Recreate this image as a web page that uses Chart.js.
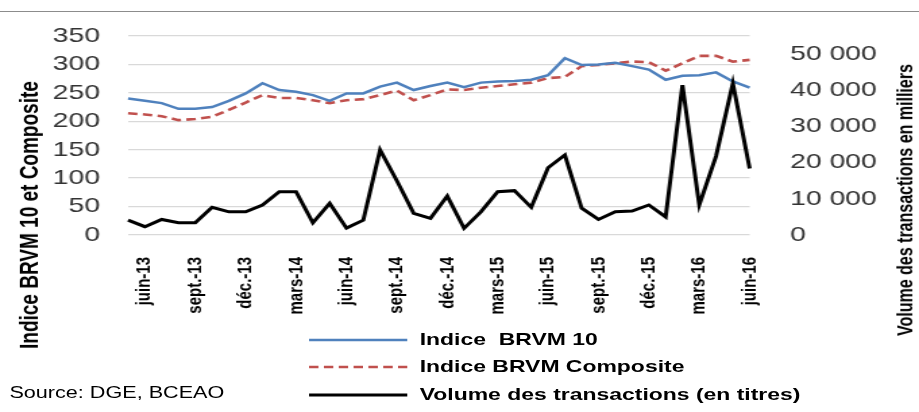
<!DOCTYPE html>
<html>
<head>
<meta charset="utf-8">
<script src="https://cdn.jsdelivr.net/npm/chart.js@4.4.1/dist/chart.umd.min.js"></script>
<style>
  html, body { margin: 0; padding: 0; background: #fff; overflow: hidden; }
  /* the original picture is stretched sideways, so draw narrow and stretch */
  #wrap { position: absolute; left: 0; top: 0; width: 681px; height: 412px;
          transform: scaleX(1.3495); transform-origin: 0 0;
          font-family: "Liberation Sans", Arial, sans-serif; color: #000; }
  #topline { position: absolute; left: 0; top: 11px; width: 681px; height: 1px; background: #8c8c8c; }
  #chart { position: absolute; left: 0; top: 0; width: 681px; height: 412px; }
  .ytitle { position: absolute; font-weight: bold; white-space: nowrap;
            transform: translate(-50%, -50%) rotate(-90deg); }
  #legend { position: absolute; left: 229px; top: 326px; }
  .row { height: 27.5px; display: flex; align-items: center; }
  .row svg { width: 73px; height: 6px; margin-right: 9px; }
  .row span { font-weight: bold; font-size: 17px; white-space: pre; }
  #source { position: absolute; left: 7px; top: 384px; font-size: 16px; }
</style>
</head>
<body>
<div id="wrap">
  <div id="topline"></div>
  <canvas id="chart" width="681" height="412"></canvas>
  <div class="ytitle" style="left:21.5px; top:215px; font-size:19px;">Indice BRVM 10 et Composite</div>
  <div class="ytitle" style="left:670.6px; top:200px; font-size:16px;">Volume des transactions en milliers</div>
  <div id="legend"></div>
  <div id="source">Source: DGE, BCEAO</div>
</div>
<script>
const months = [
  "mai-13", "juin-13", "juil.-13", "août-13", "sept.-13", "oct.-13", "nov.-13", "déc.-13",
  "janv.-14", "févr.-14", "mars-14", "avr.-14", "mai-14", "juin-14", "juil.-14", "août-14",
  "sept.-14", "oct.-14", "nov.-14", "déc.-14",
  "janv.-15", "févr.-15", "mars-15", "avr.-15", "mai-15", "juin-15", "juil.-15", "août-15",
  "sept.-15", "oct.-15", "nov.-15", "déc.-15",
  "janv.-16", "févr.-16", "mars-16", "avr.-16", "mai-16", "juin-16"
];

const brvm10 = [240, 236, 232, 222, 222, 225, 236, 249, 267, 255, 252, 246, 236, 249, 249, 261,
  268, 255, 262, 268, 260, 268, 270, 271, 273, 281, 311, 299, 300, 303, 297, 291,
  273, 280, 281, 286, 270, 259];

const brvmComposite = [214, 212, 209, 202, 204, 208, 220, 233, 246, 241, 241, 237, 232, 237, 239, 246,
  254, 237, 246, 256, 255, 259, 262, 265, 268, 276, 278, 297, 299, 302, 305, 304,
  289, 302, 315, 315, 305, 308];

const volume = [4100, 2300, 4300, 3400, 3400, 7650, 6400, 6400, 8300, 11950, 11950, 3400, 8750, 1900,
  4100, 23500, 15000, 6000, 4600, 10750, 1850, 6400, 11950, 12250, 7650, 18600, 22100, 7400,
  4300, 6400, 6600, 8300, 5000, 41400, 8300, 21800, 41900, 18400];

const leftTicks = [0, 50, 100, 150, 200, 250, 300, 350];
const rightTicks = [0, 10000, 20000, 30000, 40000, 50000];
const rightMax = 55000;

const FONT = '"Liberation Sans", Arial, sans-serif';
Chart.defaults.font.family = FONT;

function spaced(v) {
  return String(v).replace(/\B(?=(\d{3})+(?!\d))/g, " ");
}

const datasets = [
  {
    label: "Indice  BRVM 10",
    data: brvm10,
    borderColor: "#4f81bd",
    borderWidth: 2.5,
    yAxisID: "y",
    order: 1,
  },
  {
    label: "Indice BRVM Composite",
    data: brvmComposite,
    borderColor: "#c0504d",
    borderWidth: 2.6,
    borderDash: [7, 4],
    yAxisID: "y",
    order: 2,
  },
  {
    label: "Volume des transactions (en titres)",
    data: volume,
    borderColor: "#000000",
    borderWidth: 3,
    yAxisID: "y1",
    order: 0,
  },
];

const chart = new Chart(document.getElementById("chart"), {
  type: "line",
  data: { labels: months, datasets: datasets },
  options: {
    responsive: false,
    animation: false,
    layout: { padding: { top: 36, left: 0, right: 0, bottom: 0 } },
    plugins: { legend: { display: false }, tooltip: { enabled: false } },
    elements: { point: { radius: 0 }, line: { tension: 0, fill: false } },
    scales: {
      x: {
        offset: false,
        grid: { display: false },
        border: { display: false },
        ticks: {
          autoSkip: false,
          maxRotation: 90,
          minRotation: 90,
          padding: 14,
          color: "#000",
          font: { size: 15, weight: "bold" },
          callback: (v, i) => ((i - 1) % 3 === 0 ? months[i] : ""),
        },
        afterFit: (s) => { s.height = 177; },
      },
      y: {
        position: "left",
        min: leftTicks[0],
        max: leftTicks[leftTicks.length - 1],
        afterBuildTicks: (s) => { s.ticks = leftTicks.map((v) => ({ value: v })); },
        ticks: { autoSkip: false, padding: 6, color: "#333", font: { size: 21 } },
        grid: { color: "#d9d9d9", lineWidth: 1.3, drawTicks: true, tickLength: 14.8, tickColor: "transparent" },
        border: { display: false },
        afterFit: (s) => { s.width = 94.9; },
      },
      y1: {
        position: "right",
        min: 0,
        max: rightMax,
        afterBuildTicks: (s) => { s.ticks = rightTicks.map((v) => ({ value: v })); },
        ticks: {
          autoSkip: false,
          padding: 6,
          color: "#333",
          font: { size: 21 },
          callback: (v) => spaced(v),
        },
        grid: { display: true, drawOnChartArea: false, drawTicks: true, tickLength: 24, color: "transparent" },
        border: { display: false },
        afterFit: (s) => { s.width = 125.5; },
      },
    },
  },
});

// legend in a column under the plot, as in the picture
const legend = document.getElementById("legend");
datasets.forEach((ds) => {
  const row = document.createElement("div");
  row.className = "row";
  const dash = ds.borderDash ? ds.borderDash.join(" ") : "none";
  row.innerHTML =
    '<svg viewBox="0 0 73 6"><line x1="0" y1="3" x2="73" y2="3" stroke="' + ds.borderColor +
    '" stroke-width="' + ds.borderWidth + '" stroke-dasharray="' + dash + '"/></svg>';
  const span = document.createElement("span");
  span.textContent = ds.label;
  row.appendChild(span);
  legend.appendChild(row);
});
</script>
</body>
</html>
